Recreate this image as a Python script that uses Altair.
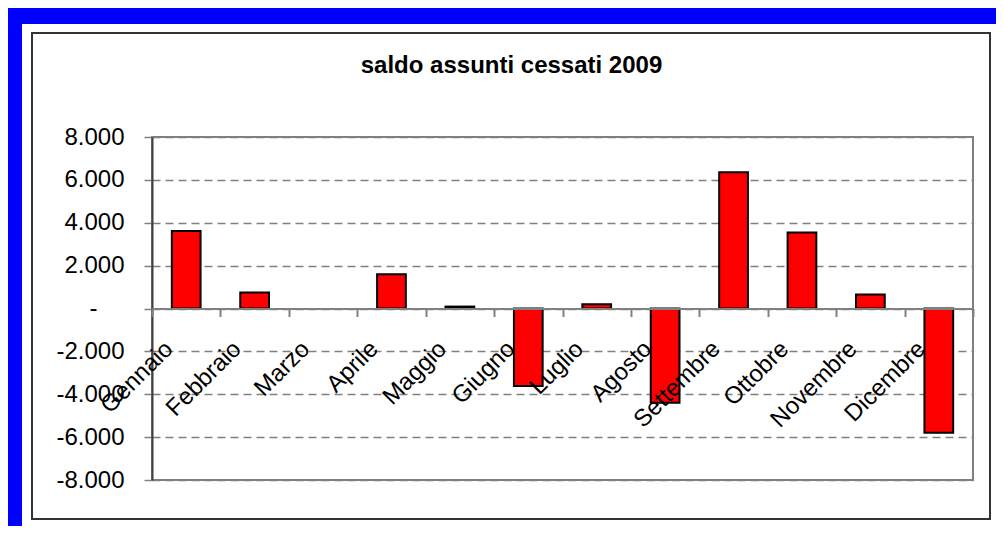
import altair as alt
import pandas as pd

MONTHS = ["Gennaio", "Febbraio", "Marzo", "Aprile", "Maggio", "Giugno",
          "Luglio", "Agosto", "Settembre", "Ottobre", "Novembre", "Dicembre"]
VALUES = [3620, 750, 0, 1600, 90, -3620, 200, -4400, 6350, 3550, 650, -5800]
Y_TICKS = [-8000, -6000, -4000, -2000, 0, 2000, 4000, 6000, 8000]
TITLE = "saldo assunti cessati 2009"

FONT = "Liberation Sans"
W, H = 821, 343

df = pd.DataFrame({"month": MONTHS, "value": VALUES})

label_expr = ("datum.value == 0 ? '-' : "
              "(datum.value < 0 ? '-' : '') + replace(format(abs(datum.value), ','), ',', '.')")

one = alt.Data(values=[{"k": 0}])

frame = alt.Chart(one).mark_rect(
    fillOpacity=0, stroke="#0000FF", strokeWidth=16
).encode(x=alt.value(-138), x2=alt.value(858), y=alt.value(-121), y2=alt.value(408))

box = alt.Chart(one).mark_rect(
    fillOpacity=0, stroke="#333333", strokeWidth=2
).encode(x=alt.value(-120), x2=alt.value(838), y=alt.value(-104), y2=alt.value(382))

title = alt.Chart(pd.DataFrame({"t": [TITLE]})).mark_text(
    font=FONT, fontSize=24, fontWeight="bold", color="black",
    align="center", baseline="alphabetic"
).encode(text="t:N", x=alt.value(359.5), y=alt.value(-63.7))

bars = alt.Chart(df).mark_bar(
    width=alt.RelativeBandSize(0.42), color="#FF0000", stroke="black", strokeWidth=2
).encode(
    x=alt.X("month:N", sort=MONTHS,
            scale=alt.Scale(paddingInner=0, paddingOuter=0),
            axis=alt.Axis(title=None, orient="bottom", offset=-H / 2,
                          labelAngle=-45, labelAlign="right", labelBaseline="top",
                          labelOffset=-26, labelPadding=20,
                          labelFont=FONT, labelFontSize=24, labelColor="black",
                          labelOverlap=False, tickBand="extent", tickSize=8,
                          tickColor="#808080", tickWidth=2,
                          domainColor="#808080", domainWidth=2,
                          grid=False, zindex=1)),
    y=alt.Y("value:Q",
            scale=alt.Scale(domain=[-8000, 8000], nice=False),
            axis=alt.Axis(title=None, values=Y_TICKS, labelExpr=label_expr,
                          grid=True, gridDash=[8, 5], gridColor="#808080", gridWidth=1.5,
                          domainColor="#404040", domainWidth=2,
                          tickColor="#808080", tickSize=8, tickWidth=1.5,
                          labelPadding={"condition": {"test": "datum.value === 0", "value": 47},
                                        "value": 20},
                          labelFont=FONT, labelFontSize=24,
                          labelColor="black", zindex=0)),
    strokeOpacity=alt.condition(alt.datum.value == 0, alt.value(0), alt.value(1)),
)

chart = alt.layer(frame, box, title, bars).properties(
    width=W, height=H,
    autosize=alt.AutoSizeParams(type="none"),
    padding={"left": 144, "top": 129, "right": 23, "bottom": 46},
    background="white",
).configure_view(stroke="#808080", strokeWidth=2)

chart.save("out.html", embed_options={"renderer": "svg", "actions": False})
